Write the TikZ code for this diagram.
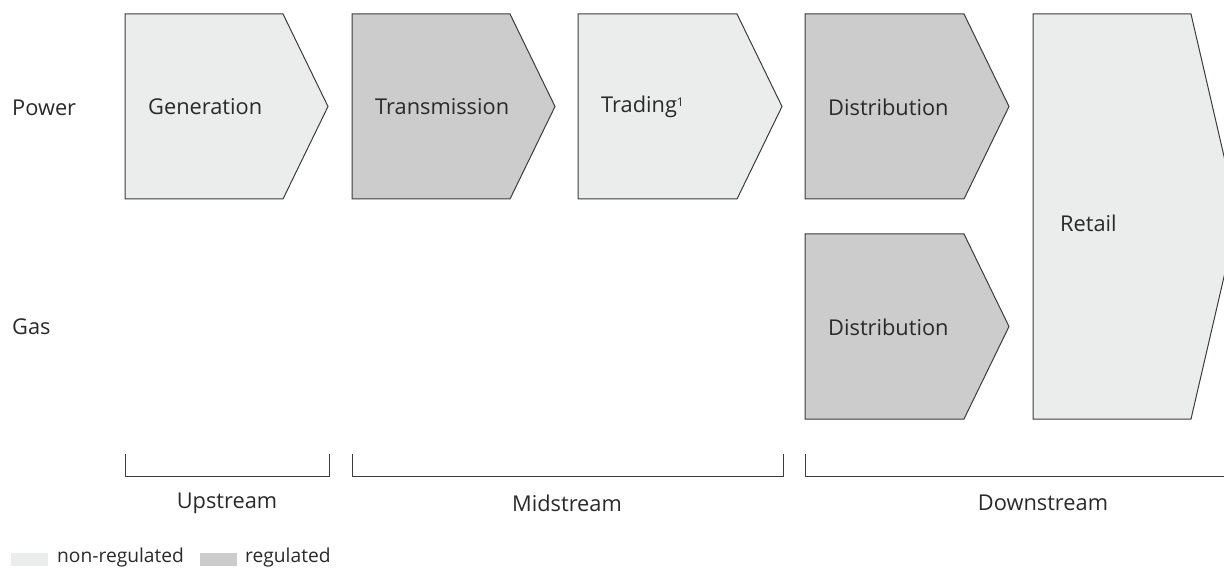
\documentclass[tikz,border=0pt]{standalone}
\usepackage{fontspec}
\setmainfont{Open Sans}
\usepackage{tikz}
\usetikzlibrary{positioning}
\usetikzlibrary{calc}

\definecolor{nonreg}{HTML}{EBECEC}
\definecolor{reg}{HTML}{CCCCCC}
\definecolor{edge}{HTML}{3C3C3C}
\definecolor{ink}{HTML}{2A2A2A}

\tikzset{chev/.style={draw=edge, line width=1pt},
         steplabel/.style={anchor=west, text=ink, font=\fontsize{21.8}{24}\selectfont, inner sep=0pt},
         rowlabel/.style={anchor=west, text=ink, font=\fontsize{21.8}{24}\selectfont, inner sep=0pt},
         bracket/.style={draw=edge, line width=1pt},
         stagelabel/.style={text=ink, font=\fontsize{21.8}{24}\selectfont},
         legendtext/.style={anchor=west, text=ink, font=\fontsize{19.2}{22}\selectfont, inner sep=0pt}
}

\begin{document}
\begin{tikzpicture}[x=1pt, y=-1pt]
  \useasboundingbox (0, 0) rectangle (1224, 569);
  \clip (0, 0) rectangle (1224, 569);

  % row labels
  \node[rowlabel] (power) at (12, 108) {Power};
  \node[rowlabel] (gas) at (12, 327) {Gas};

  % chevrons, upper row
  \draw[chev, fill=nonreg] (125, 14) -- (283, 14) -- (328, 106.5) -- (283, 199) -- (125, 199) -- cycle;
  \node[steplabel] (gen) at (148, 107) {Generation};

  \draw[chev, fill=reg] (352, 14) -- (510, 14) -- (555, 106.5) -- (510, 199) -- (352, 199) -- cycle;
  \node[steplabel] (trans) at (375, 107) {Transmission};

  \draw[chev, fill=nonreg] (578, 14) -- (737, 14) -- (782, 106.5) -- (737, 199) -- (578, 199) -- cycle;
  \node[steplabel] (trade) at (601, 107) {Trading\raisebox{0.55ex}{\fontsize{12}{12}\selectfont 1}};

  \draw[chev, fill=reg] (805, 14) -- (964, 14) -- (1009, 106.5) -- (964, 199) -- (805, 199) -- cycle;
  \node[steplabel] (pdist) at (828, 107) {Distribution};

  % lower row
  \draw[chev, fill=reg] (805, 234) -- (964, 234) -- (1009, 326.5) -- (964, 419) -- (805, 419) -- cycle;
  \node[steplabel] (gdist) at (828, 327) {Distribution};

  % retail spans both rows
  \draw[chev, fill=nonreg] (1033, 14) -- (1191, 14) -- (1238, 216.5) -- (1191, 419) -- (1033, 419) -- cycle;
  \node[steplabel] (retail) at (1060, 223) {Retail};

  % brackets
  \draw[bracket] (125, 454) -- (125, 476) -- (329, 476) -- (329, 454);
  \draw[bracket] (352, 454) -- (352, 476) -- (783, 476) -- (783, 454);
  \draw[bracket] (805, 454) -- (805, 476) -- (1282, 476) -- (1282, 454);
  \node[stagelabel] (up) at (227, 503) {Upstream};
  \node[stagelabel] (mid) at (567, 503) {Midstream};
  \node[stagelabel] (down) at (1043, 503) {Downstream};

  % legend
  \fill[nonreg] (11, 553) rectangle (48, 566);
  \node[legendtext] (lnon) at (57, 558) {non-regulated};
  \fill[reg] (200, 553) rectangle (237, 566);
  \node[legendtext] (lreg) at (245, 558) {regulated};
\end{tikzpicture}
\end{document}
